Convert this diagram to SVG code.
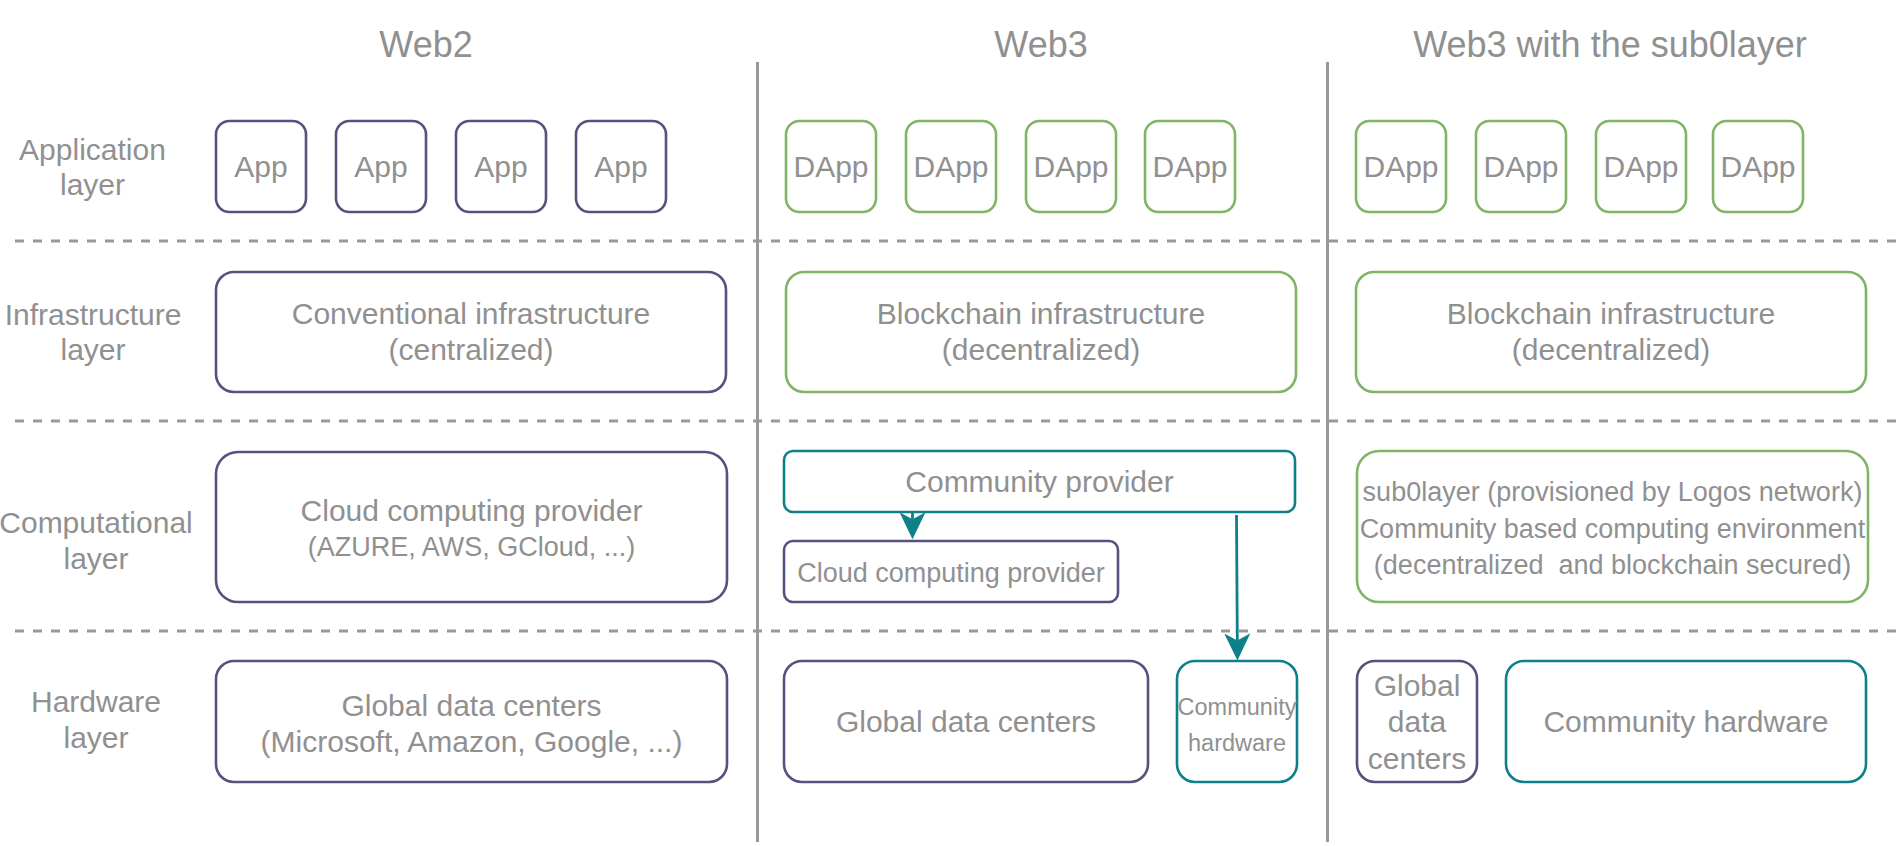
<svg xmlns="http://www.w3.org/2000/svg" width="1899" height="846" viewBox="0 0 1899 846">
<defs>
<style>
text{font-family:"Liberation Sans",Arial,sans-serif;fill:#909090;text-anchor:middle}
.t{font-size:36px}
.l{font-size:30px}
.s{font-size:27px}
.xs{font-size:23.5px}
.sep{stroke:#999999;stroke-width:3;fill:none}
.dash{stroke:#999999;stroke-width:3;stroke-dasharray:9 9;fill:none}
.p{fill:#ffffff;stroke:#56517e;stroke-width:2.6}
.g{fill:#ffffff;stroke:#82b366;stroke-width:2.6}
.c{fill:#ffffff;stroke:#0e8088;stroke-width:2.6}
.edge{stroke:#0e8088;stroke-width:2.8;fill:none}
</style>
<marker id="arr" markerUnits="userSpaceOnUse" viewBox="0 0 27 26" markerWidth="27" markerHeight="26" refX="7" refY="13" orient="auto">
<path d="M0,0 L27,13 L0,26 L7,13 Z" fill="#0e8088"/>
</marker>
</defs>
<rect width="1899" height="846" fill="#ffffff"/>

<g id="grid">
<line class="dash" x1="15" y1="241" x2="1899" y2="241"/>
<line class="dash" x1="15" y1="421" x2="1899" y2="421"/>
<line class="dash" x1="15" y1="631" x2="1899" y2="631"/>
<line class="sep" x1="757.5" y1="62" x2="757.5" y2="842"/>
<line class="sep" x1="1327.5" y1="62" x2="1327.5" y2="842"/>
</g>

<g id="titles">
<text class="t" x="426" y="57">Web2</text>
<text class="t" x="1041" y="57">Web3</text>
<text class="t" x="1610" y="57">Web3 with the sub0layer</text>
</g>

<g id="row-labels">
<text class="l" x="92.5" y="159.5">Application</text>
<text class="l" x="92.5" y="194.5">layer</text>
<text class="l" x="93" y="324.5">Infrastructure</text>
<text class="l" x="93" y="359.5">layer</text>
<text class="l" x="96" y="533">Computational</text>
<text class="l" x="96" y="569">layer</text>
<text class="l" x="96" y="712">Hardware</text>
<text class="l" x="96" y="748">layer</text>
</g>

<!-- Web2 -->
<g id="app1"><rect class="p" x="216" y="121" width="90" height="91" rx="13.5"/><text class="l" x="261" y="177">App</text></g>
<g id="app2"><rect class="p" x="336" y="121" width="90" height="91" rx="13.5"/><text class="l" x="381" y="177">App</text></g>
<g id="app3"><rect class="p" x="456" y="121" width="90" height="91" rx="13.5"/><text class="l" x="501" y="177">App</text></g>
<g id="app4"><rect class="p" x="576" y="121" width="90" height="91" rx="13.5"/><text class="l" x="621" y="177">App</text></g>
<g id="conv-infra"><rect class="p" x="216" y="272" width="510" height="120" rx="18"/><text class="l" x="471" y="324">Conventional infrastructure</text><text class="l" x="471" y="360">(centralized)</text></g>
<g id="cloud-web2"><rect class="p" x="216" y="452" width="511" height="150" rx="22"/><text class="l" x="471.5" y="520.5">Cloud computing provider</text><text class="s" x="471.5" y="556">(AZURE, AWS, GCloud, ...)</text></g>
<g id="dc-web2"><rect class="p" x="216" y="661" width="511" height="121" rx="18"/><text class="l" x="471.5" y="715.5">Global data centers</text><text class="l" x="471.5" y="752">(Microsoft, Amazon, Google, ...)</text></g>

<!-- Web3 -->
<g id="dapp1"><rect class="g" x="786" y="121" width="90" height="91" rx="13.5"/><text class="l" x="831" y="177">DApp</text></g>
<g id="dapp2"><rect class="g" x="906" y="121" width="90" height="91" rx="13.5"/><text class="l" x="951" y="177">DApp</text></g>
<g id="dapp3"><rect class="g" x="1026" y="121" width="90" height="91" rx="13.5"/><text class="l" x="1071" y="177">DApp</text></g>
<g id="dapp4"><rect class="g" x="1145" y="121" width="90" height="91" rx="13.5"/><text class="l" x="1190" y="177">DApp</text></g>
<g id="bc-web3"><rect class="g" x="786" y="272" width="510" height="120" rx="18"/><text class="l" x="1041" y="324">Blockchain infrastructure</text><text class="l" x="1041" y="360">(decentralized)</text></g>
<g id="community-provider"><rect class="c" x="784" y="451" width="511" height="61" rx="9"/><text class="l" x="1039.5" y="492">Community provider</text></g>
<g id="cloud-web3"><rect class="p" x="784" y="541" width="334" height="61" rx="9"/><text class="s" x="951" y="582">Cloud computing provider</text></g>
<g id="dc-web3"><rect class="p" x="784" y="661" width="364" height="121" rx="18"/><text class="l" x="966" y="732">Global data centers</text></g>
<g id="ch-web3"><rect class="c" x="1177" y="661" width="120" height="121" rx="18"/><text class="xs" x="1237" y="714.5">Community</text><text class="xs" x="1237" y="751">hardware</text></g>

<!-- Web3 with sub0layer -->
<g id="dapp5"><rect class="g" x="1356" y="121" width="90" height="91" rx="13.5"/><text class="l" x="1401" y="177">DApp</text></g>
<g id="dapp6"><rect class="g" x="1476" y="121" width="90" height="91" rx="13.5"/><text class="l" x="1521" y="177">DApp</text></g>
<g id="dapp7"><rect class="g" x="1596" y="121" width="90" height="91" rx="13.5"/><text class="l" x="1641" y="177">DApp</text></g>
<g id="dapp8"><rect class="g" x="1713" y="121" width="90" height="91" rx="13.5"/><text class="l" x="1758" y="177">DApp</text></g>
<g id="bc-sub0"><rect class="g" x="1356" y="272" width="510" height="120" rx="18"/><text class="l" x="1611" y="324">Blockchain infrastructure</text><text class="l" x="1611" y="360">(decentralized)</text></g>
<g id="sub0layer"><rect class="g" x="1357" y="451" width="511" height="151" rx="22"/><text class="s" x="1612.5" y="501">sub0layer (provisioned by Logos network)</text><text class="s" x="1612.5" y="538">Community based computing environment</text><text class="s" x="1612.5" y="573.5" xml:space="preserve">(decentralized  and blockchain secured)</text></g>
<g id="dc-sub0"><rect class="p" x="1357" y="661" width="120" height="121" rx="18"/><text class="l" x="1417" y="696">Global</text><text class="l" x="1417" y="732">data</text><text class="l" x="1417" y="768.5">centers</text></g>
<g id="ch-sub0"><rect class="c" x="1506" y="661" width="360" height="121" rx="18"/><text class="l" x="1686" y="732">Community hardware</text></g>

<g id="connectors">
<path class="edge" d="M912.5,511.5 L912.5,519.3" marker-end="url(#arr)"/>
<path class="edge" d="M1236.5,515 L1237.3,640.5" marker-end="url(#arr)"/>
</g>
</svg>
